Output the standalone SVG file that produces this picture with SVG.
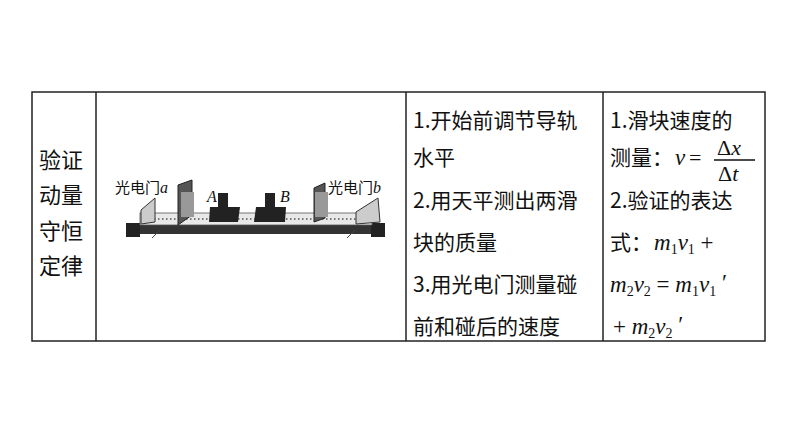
<svg xmlns="http://www.w3.org/2000/svg" width="794" height="447" viewBox="0 0 794 447">
<style>
.t{font-family:"Noto Sans CJK SC","Liberation Sans",sans-serif;font-size:21px;fill:#111}
.m{font-family:"Liberation Serif",serif;font-style:italic;font-size:23px;fill:#111}
.s{font-family:"Liberation Serif",serif;font-size:16px;fill:#111}
.r{font-family:"Liberation Serif",serif;font-size:22px;fill:#111}
.ln{stroke:#222;stroke-width:1.5;fill:none}
</style>
<rect width="794" height="447" fill="#fff"/>
<g id="table">
<rect x="32" y="92" width="733" height="249" fill="#f5f5f5" class="ln"/>
<line x1="96" y1="92" x2="96" y2="341" class="ln"/>
<line x1="406" y1="92" x2="406" y2="341" class="ln"/>
<line x1="603" y1="92" x2="603" y2="341" class="ln"/>
</g>
<g id="col1">
<text x="39" y="168" class="t" style="font-size:22px">验证</text>
<text x="39" y="203" class="t" style="font-size:22px">动量</text>
<text x="39" y="239" class="t" style="font-size:22px">守恒</text>
<text x="39" y="274" class="t" style="font-size:22px">定律</text>
</g>
<g id="apparatus">
<rect x="128" y="225" width="255" height="9" fill="#333"/>
<rect x="126" y="223" width="14" height="14" fill="#222"/>
<rect x="371" y="223" width="14" height="14" fill="#222"/>
<rect x="140" y="213" width="232" height="12" fill="#e8e8e8" stroke="#555" stroke-width="0.8"/>
<line x1="142" y1="219" x2="370" y2="219" stroke="#777" stroke-width="2" stroke-dasharray="1.5 2.5"/>
<polygon points="141,210 155,198 155,222 141,224" fill="#ccc" stroke="#333"/>
<polygon points="178,185 192,180 192,215 178,225" fill="#555" stroke="#222"/>
<rect x="181" y="192" width="13" height="25" fill="#999"/>
<rect x="218" y="193" width="10" height="14" fill="#222"/>
<polygon points="210,207 240,207 238,222 209,222" fill="#222"/>
<rect x="265" y="193" width="10" height="14" fill="#222"/>
<polygon points="256,207 286,207 285,222 254,222" fill="#222"/>
<polygon points="314,188 325,183 325,218 314,222" fill="#555" stroke="#222"/>
<rect x="315" y="192" width="13" height="25" fill="#999"/>
<polygon points="356,212 378,198 380,222 356,224" fill="#ccc" stroke="#333"/>
<line x1="152" y1="238" x2="160" y2="230" stroke="#444"/>
<line x1="347" y1="238" x2="355" y2="230" stroke="#444"/>
<text x="115" y="193" class="s"><tspan style="font-family:'Noto Sans CJK SC',sans-serif;font-size:15px">光电门</tspan><tspan font-style="italic">a</tspan></text>
<text x="207" y="202" class="s" font-style="italic">A</text>
<text x="280" y="202" class="s" font-style="italic">B</text>
<text x="328" y="193" class="s"><tspan style="font-family:'Noto Sans CJK SC',sans-serif;font-size:15px">光电门</tspan><tspan font-style="italic">b</tspan></text>
</g>
<g id="col3">
<text x="413" y="128" class="t">1.开始前调节导轨</text>
<text x="413" y="165" class="t">水平</text>
<text x="413" y="208" class="t">2.用天平测出两滑</text>
<text x="413" y="250" class="t">块的质量</text>
<text x="413" y="292" class="t">3.用光电门测量碰</text>
<text x="413" y="334" class="t">前和碰后的速度</text>
</g>
<g id="col4">
<text x="610" y="128" class="t">1.滑块速度的</text>
<text x="610" y="165" class="t">测量：</text>
<text x="675" y="165" class="m">v</text><text x="689" y="165" class="r">=</text>
<text x="717" y="155" class="r">Δ<tspan font-style="italic">x</tspan></text>
<line x1="714" y1="160" x2="755" y2="160" stroke="#111" stroke-width="1.3"/>
<text x="718" y="181" class="r">Δ<tspan font-style="italic">t</tspan></text>
<text x="610" y="208" class="t">2.验证的表达</text>
<text x="610" y="250" class="t">式：</text>
<text x="654" y="250" class="m">m<tspan font-size="14" font-style="normal" dy="4">1</tspan><tspan dy="-4">v</tspan><tspan font-size="14" font-style="normal" dy="4">1</tspan><tspan dy="-4" font-style="normal"> +</tspan></text>
<text x="610" y="292" class="m">m<tspan font-size="14" font-style="normal" dy="4">2</tspan><tspan dy="-4">v</tspan><tspan font-size="14" font-style="normal" dy="4">2</tspan><tspan dy="-4" font-style="normal"> = </tspan>m<tspan font-size="14" font-style="normal" dy="4">1</tspan><tspan dy="-4">v</tspan><tspan font-size="14" font-style="normal" dy="4">1</tspan><tspan dy="-6" font-style="normal"> ′</tspan></text>
<text x="613" y="334" class="m"><tspan font-style="normal">+ </tspan>m<tspan font-size="14" font-style="normal" dy="4">2</tspan><tspan dy="-4">v</tspan><tspan font-size="14" font-style="normal" dy="4">2</tspan><tspan dy="-6" font-style="normal"> ′</tspan></text>
</g>
</svg>
